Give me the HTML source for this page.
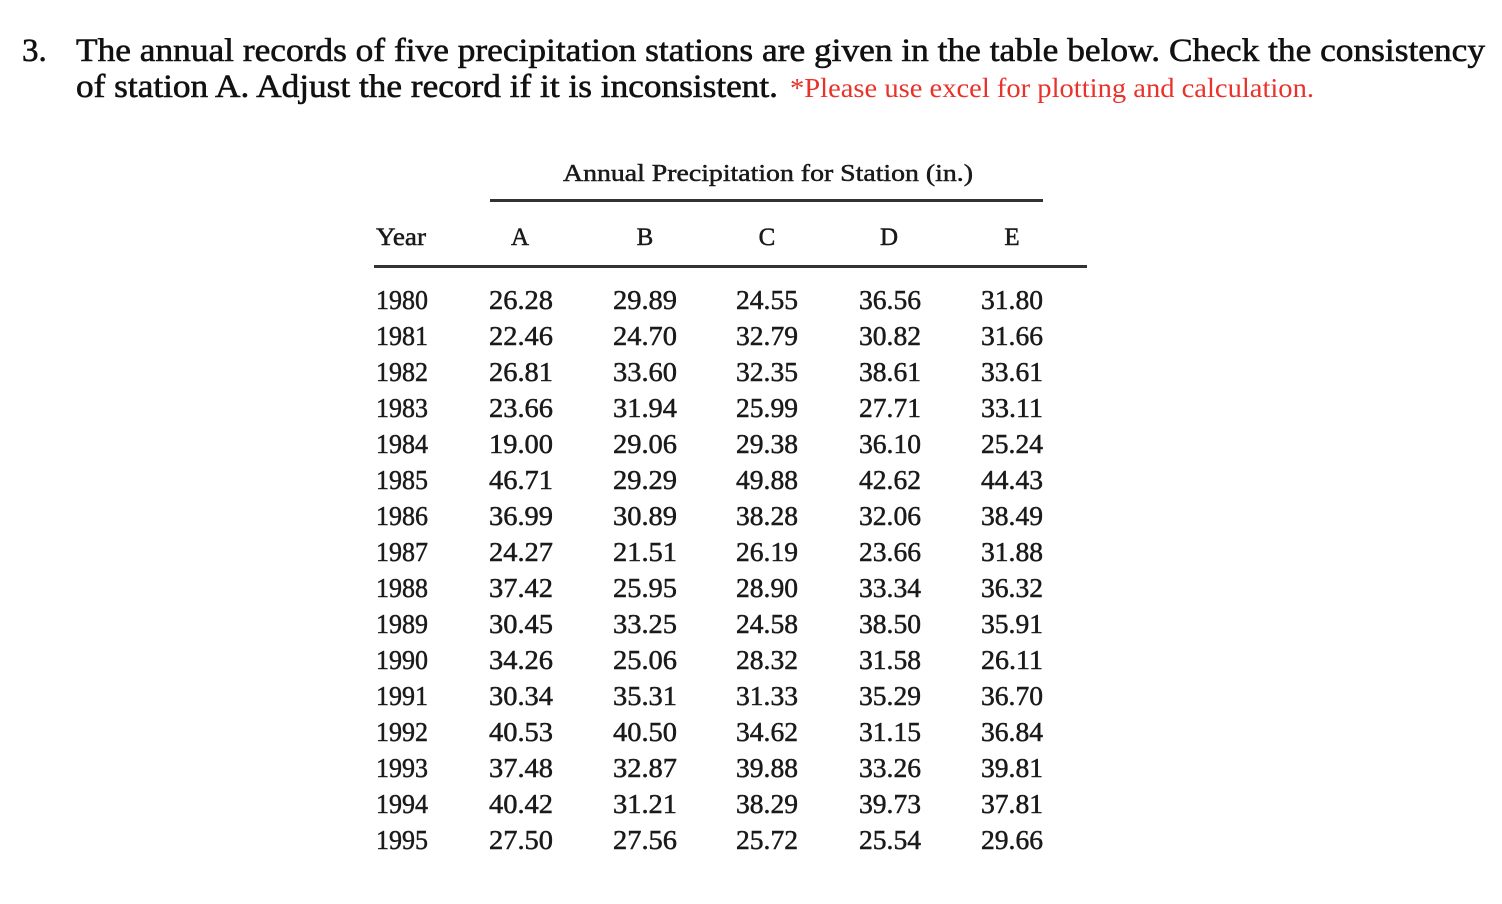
<!DOCTYPE html>
<html><head><meta charset="utf-8"><style>
html,body{margin:0;padding:0;background:#fff;}
svg{display:block;}
text{font-family:"Liberation Serif",serif;fill:#111;}
.h{font-size:33px;stroke:#111;stroke-width:0.6px;}
.t{font-size:27px;fill:#1a1a1a;stroke:#1a1a1a;stroke-width:0.5px;}
</style></head><body>
<svg width="1502" height="904" viewBox="0 0 1502 904" xmlns="http://www.w3.org/2000/svg">
<text class="h" x="22" y="61">3.</text>
<text class="h" x="76" y="61" textLength="1409" lengthAdjust="spacingAndGlyphs">The annual records of five precipitation stations are given in the table below. Check the consistency</text>
<text class="h" x="76" y="97" textLength="702" lengthAdjust="spacingAndGlyphs">of station A. Adjust the record if it is inconsistent.</text>
<text x="790" y="97" style="font-size:27px;fill:#e8322a" textLength="524" lengthAdjust="spacingAndGlyphs">*Please use excel for plotting and calculation.</text>

<text class="t" x="563" y="181" style="font-size:24px" textLength="410" lengthAdjust="spacingAndGlyphs">Annual Precipitation for Station (in.)</text>
<rect x="490" y="199" width="553" height="3" fill="#333"/>
<text class="t" x="376" y="245" style="font-size:25px" textLength="50" lengthAdjust="spacingAndGlyphs">Year</text>
<text class="t" x="520" y="245" text-anchor="middle" style="font-size:25px">A</text>
<text class="t" x="645" y="245" text-anchor="middle" style="font-size:25px">B</text>
<text class="t" x="767" y="245" text-anchor="middle" style="font-size:25px">C</text>
<text class="t" x="889" y="245" text-anchor="middle" style="font-size:25px">D</text>
<text class="t" x="1012" y="245" text-anchor="middle" style="font-size:25px">E</text>
<rect x="374" y="265" width="713" height="3" fill="#333"/>
<g id="rows"></g>
</svg>
<script>
var d=[
[1980,"26.28","29.89","24.55","36.56","31.80"],
[1981,"22.46","24.70","32.79","30.82","31.66"],
[1982,"26.81","33.60","32.35","38.61","33.61"],
[1983,"23.66","31.94","25.99","27.71","33.11"],
[1984,"19.00","29.06","29.38","36.10","25.24"],
[1985,"46.71","29.29","49.88","42.62","44.43"],
[1986,"36.99","30.89","38.28","32.06","38.49"],
[1987,"24.27","21.51","26.19","23.66","31.88"],
[1988,"37.42","25.95","28.90","33.34","36.32"],
[1989,"30.45","33.25","24.58","38.50","35.91"],
[1990,"34.26","25.06","28.32","31.58","26.11"],
[1991,"30.34","35.31","31.33","35.29","36.70"],
[1992,"40.53","40.50","34.62","31.15","36.84"],
[1993,"37.48","32.87","39.88","33.26","39.81"],
[1994,"40.42","31.21","38.29","39.73","37.81"],
[1995,"27.50","27.56","25.72","25.54","29.66"]];
var xs=[376,489,613,736,859,981],ws=[52,64,64,62,62,62];
var g=document.getElementById("rows"),h="";
d.forEach(function(r,i){var y=309+i*36;
r.forEach(function(v,j){h+='<text class="t" x="'+xs[j]+'" y="'+y+'" textLength="'+ws[j]+'" lengthAdjust="spacingAndGlyphs">'+v+'</text>';});});
g.innerHTML=h;
</script>
</body></html>
